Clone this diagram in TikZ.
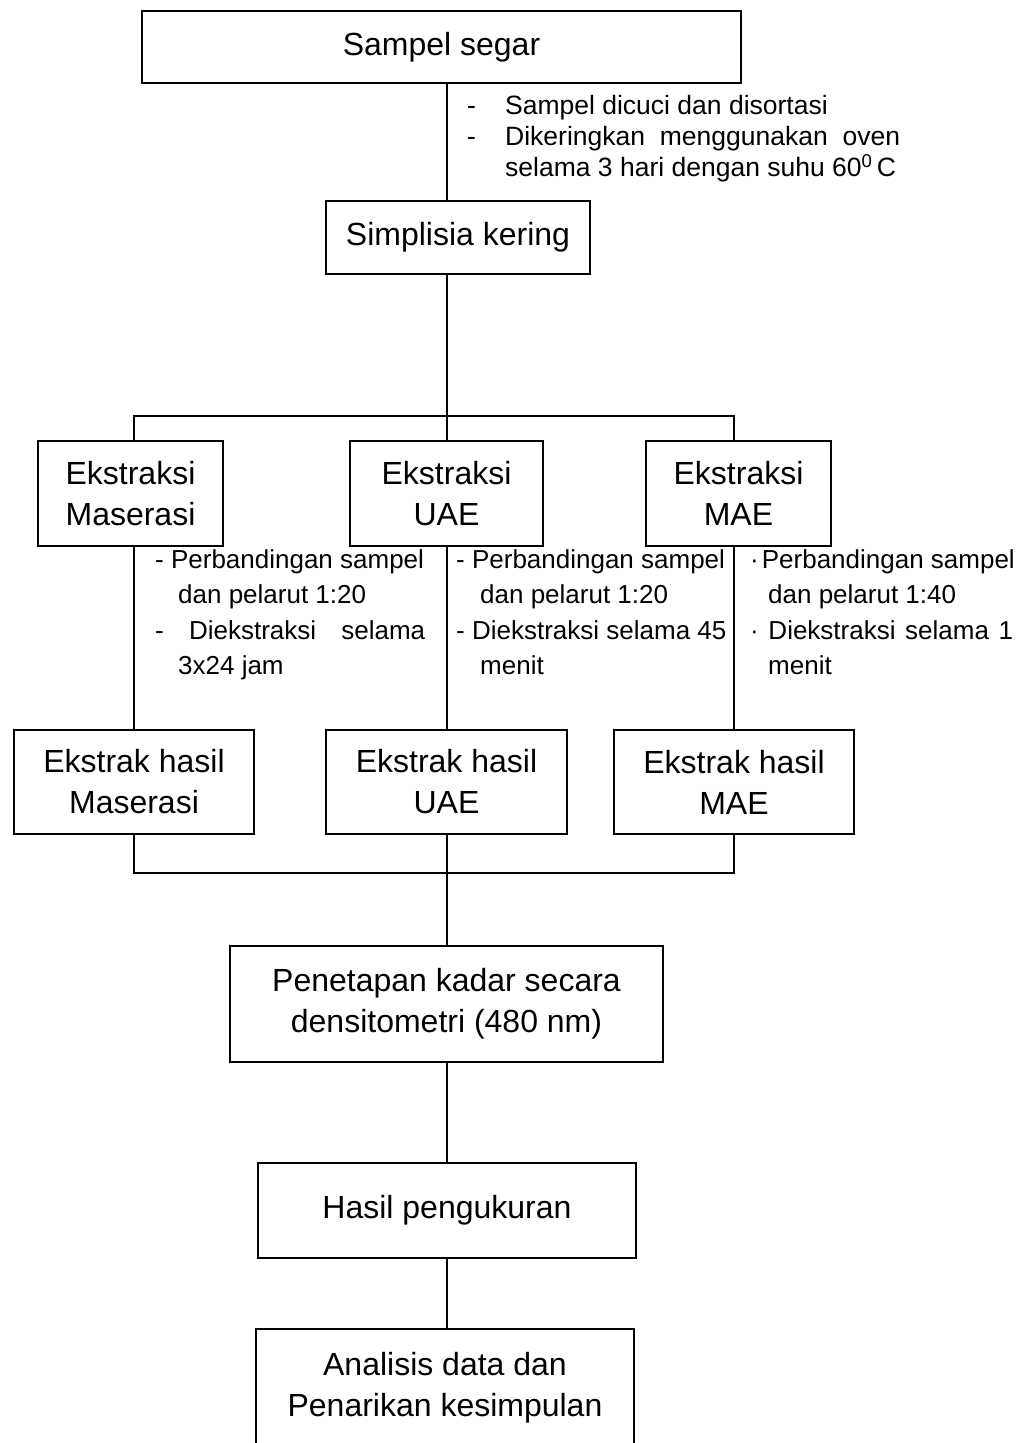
\documentclass[tikz,border=0pt]{standalone}
\usepackage{fontspec}
\setmainfont{Liberation Sans}
\newcommand\mainfs{\fontsize{32}{41}\selectfont}
\newcommand\notefsA{\fontsize{26.5}{31}\selectfont}
\newcommand\notefsB{\fontsize{26}{35.5}\selectfont}
\tikzset{
  box/.style={draw, line width=1.4pt, inner sep=0pt, align=center, font=\mainfs},
  conn/.style={line width=1.4pt},
  note/.style={inner sep=0pt, anchor=base west, align=left},
}
\begin{document}
\begin{tikzpicture}[x=1pt, y=-1pt]
\useasboundingbox (0,0) rectangle (1032,1443);
\clip (0,0) rectangle (1032,1443);
\fill[white] (0,0) rectangle (1032,1443);

% columns
\coordinate (cL) at (134,0);
\coordinate (cM) at (447,0);
\coordinate (cR) at (734,0);
\coordinate (j1) at (447,416);
\coordinate (j2) at (447,873);

% boxes
\node[box, minimum width=599pt, minimum height=72pt] (s1) at (441.5,47) {Sampel segar};
\node[box, minimum width=264pt, minimum height=73pt] (s2) at (458,237.5) {Simplisia kering};
\node[box, minimum width=185pt, minimum height=105pt] (e1) at (130.5,493.5) {Ekstraksi\\Maserasi};
\node[box, minimum width=193pt, minimum height=105pt] (e2) at (446.5,493.5) {Ekstraksi\\UAE};
\node[box, minimum width=185pt, minimum height=105pt] (e3) at (738.5,493.5) {Ekstraksi\\MAE};
\node[box, minimum width=240pt, minimum height=104pt] (h1) at (134,782) {Ekstrak hasil\\Maserasi};
\node[box, minimum width=241pt, minimum height=104pt] (h2) at (446.5,782) {Ekstrak hasil\\UAE};
\node[box, minimum width=240pt, minimum height=104pt] (h3) at (734,782) {Ekstrak hasil\\MAE};
\node[box, minimum width=433pt, minimum height=116pt] (p) at (446.5,1004) {Penetapan kadar secara\\densitometri (480 nm)};
\node[box, minimum width=378pt, minimum height=95pt] (hp) at (447,1210.5) {Hasil pengukuran};
\node[box, minimum width=378pt, minimum height=118pt] (a) at (445,1388) {Analisis data dan\\Penarikan kesimpulan};

% notes
\node[note, font=\notefsA] (n0) at (467,114) {\begin{tabular}[t]{@{}p{38pt}@{}l@{}}
-& Sampel dicuci dan disortasi\\
-& \makebox[395pt][s]{Dikeringkan menggunakan oven}\\
& selama 3 hari dengan suhu 60\textsuperscript{0}\,C
\end{tabular}};

\node[note, font=\notefsB] (n1) at (155,568) {\begin{tabular}[t]{@{}l@{}}
- Perbandingan sampel\\
\hspace*{23pt}dan pelarut 1:20\\
\makebox[270pt][s]{- Diekstraksi selama}\\
\hspace*{23pt}3x24 jam
\end{tabular}};

\node[note, font=\notefsB] (n2) at (456,568) {\begin{tabular}[t]{@{}l@{}}
- Perbandingan sampel\\
\hspace*{24pt}dan pelarut 1:20\\
- Diekstraksi selama 45\\
\hspace*{24pt}menit
\end{tabular}};

\node[note, font=\notefsB] (n3) at (750,568) {\begin{tabular}[t]{@{}l@{}}
·\hspace{3pt}Perbandingan sampel\\
\hspace*{18pt}dan pelarut 1:40\\
\makebox[263pt][s]{· Diekstraksi selama 1}\\
\hspace*{18pt}menit
\end{tabular}};

% connectors
\draw[conn] (s1.south -| cM) -- (s2.north -| cM);
\draw[conn] (s2.south -| cM) -- (j1) -- (e2.north -| cM);
\draw[conn] (e1.north -| cL) -- (cL |- j1) -- (cR |- j1) -- (e3.north -| cR);
\draw[conn] (e1.south -| cL) -- (h1.north -| cL);
\draw[conn] (e2.south -| cM) -- (h2.north -| cM);
\draw[conn] (e3.south -| cR) -- (h3.north -| cR);
\draw[conn] (h1.south -| cL) -- (cL |- j2) -- (cR |- j2) -- (h3.south -| cR);
\draw[conn] (h2.south -| cM) -- (p.north -| cM);
\draw[conn] (p.south -| cM) -- (hp.north -| cM);
\draw[conn] (hp.south -| cM) -- (a.north -| cM);
\end{tikzpicture}
\end{document}
